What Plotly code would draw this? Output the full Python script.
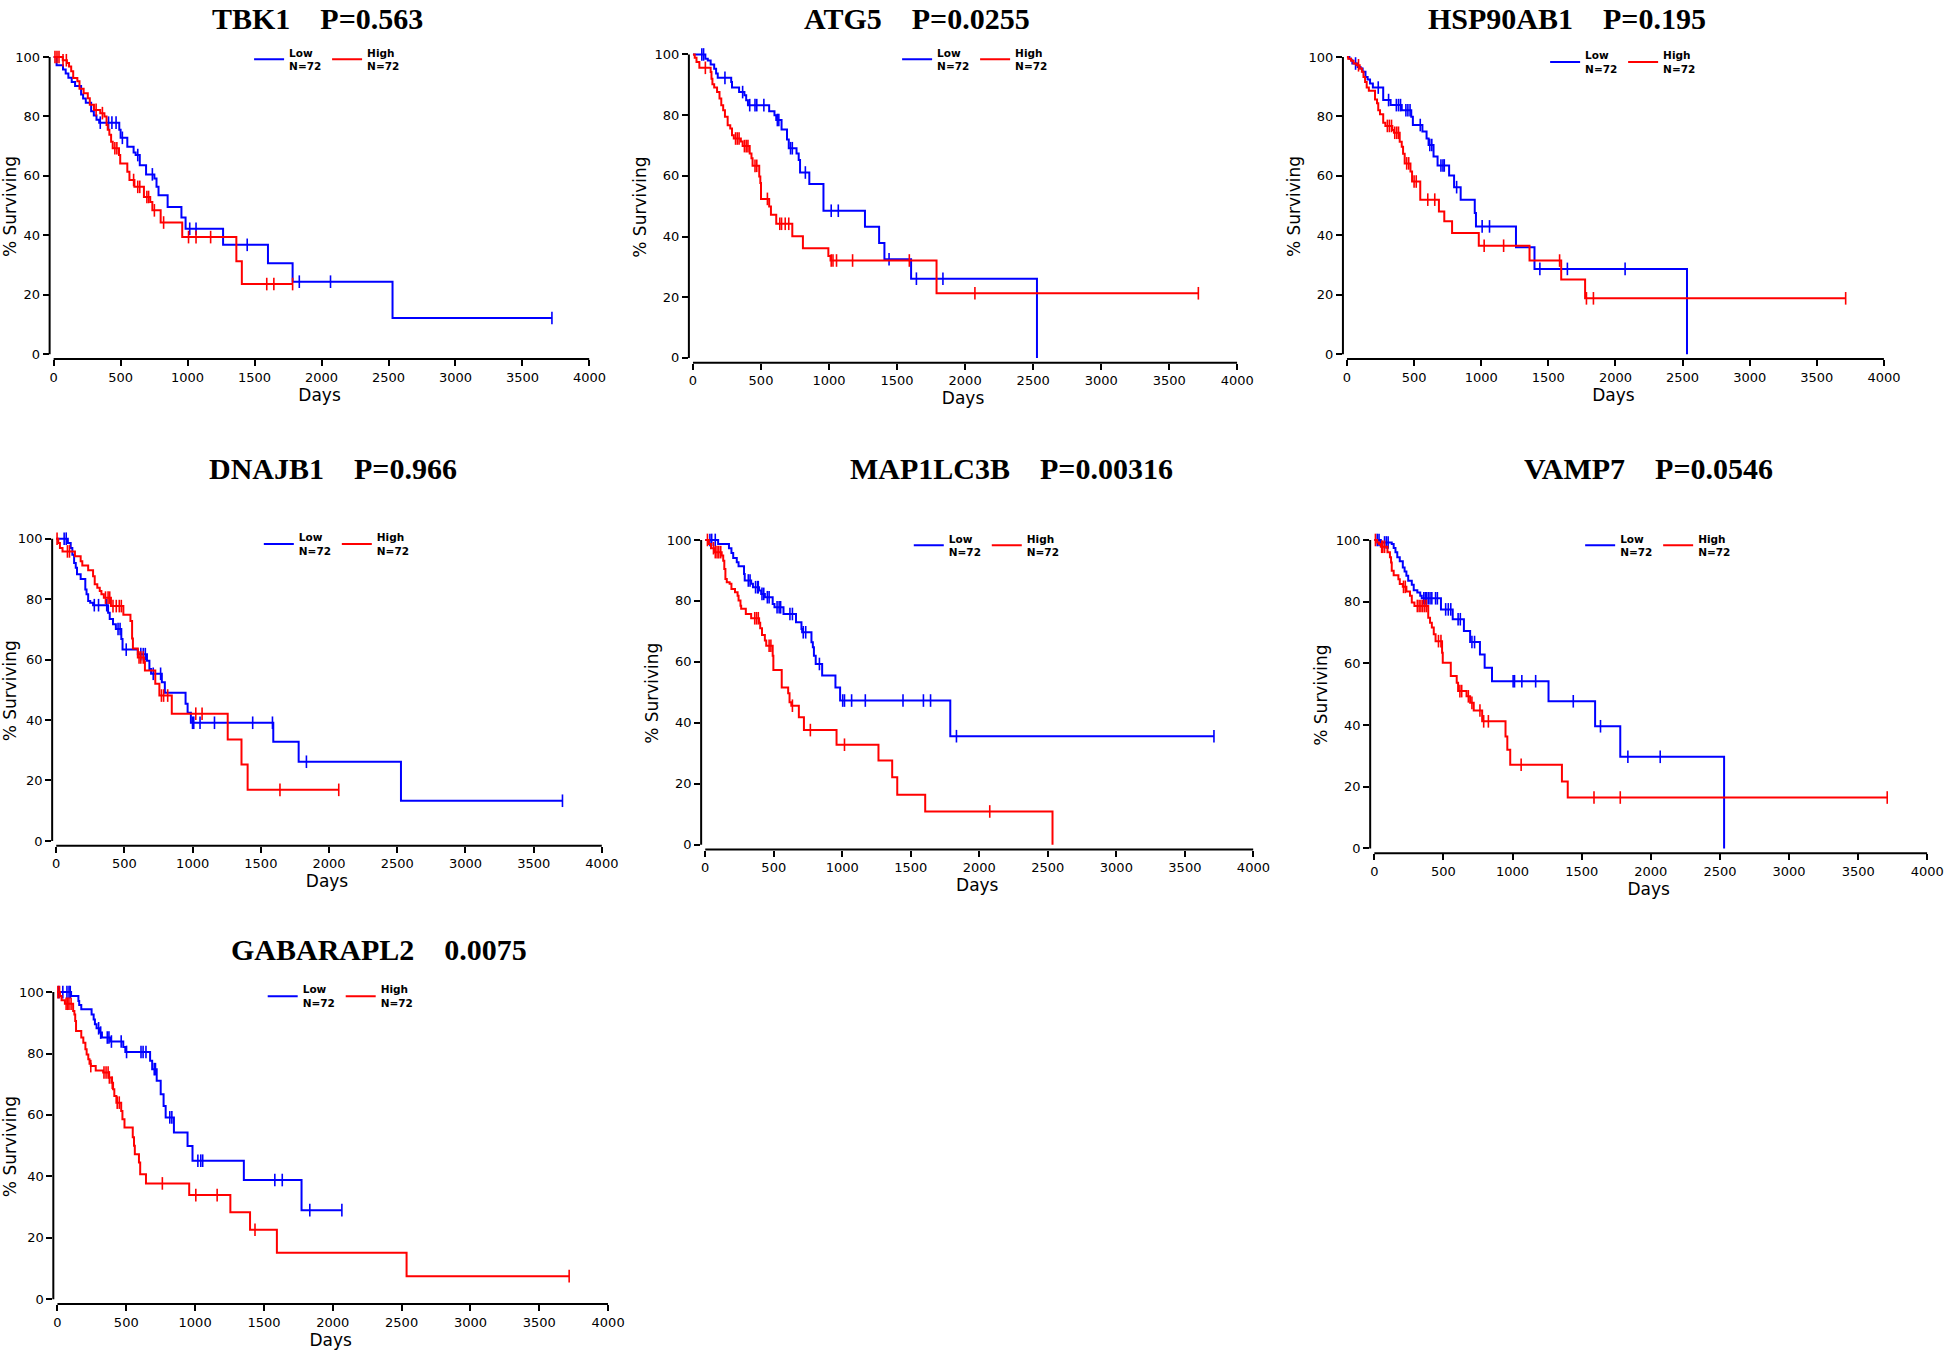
import plotly.graph_objects as go

# ---------------- data ----------------
GENES = ["TBK1", "ATG5", "HSP90AB1", "DNAJB1", "MAP1LC3B", "VAMP7", "GABARAPL2"]
P_LABELS = ["P=0.563", "P=0.0255", "P=0.195", "P=0.966", "P=0.00316", "P=0.0546", "0.0075"]
GROUPS = ["Low", "High"]
GROUP_N = [72, 72]
X_TICKS = [0, 500, 1000, 1500, 2000, 2500, 3000, 3500, 4000]
Y_TICKS = [0, 20, 40, 60, 80, 100]

# TBK1
TBK1_LOW_T = [0, 22, 70, 90, 110, 135, 160, 205, 220, 240, 280, 300, 320, 340, 490, 500, 550, 597, 612, 643,
              690, 752, 768, 783, 851, 954, 985, 1265, 1600, 1784, 2530]
TBK1_LOW_S = [100, 97.2, 95.8, 94.4, 93.0, 91.6, 90.2, 87.4, 86.0, 84.6, 81.7, 80.3, 78.9, 77.9, 75.5, 72.8, 69.8,
              67.9, 67.0, 63.6, 60.5, 59.1, 56.3, 53.5, 49.5, 46.0, 42.2, 36.8, 30.6, 24.4, 12.2]
TBK1_LOW_C = [348, 410, 435, 466, 513, 628, 737, 1016, 1063, 1445, 1834, 2067, 3720]
TBK1_HIGH_T = [0, 68, 99, 115, 131, 146, 177, 193, 224, 255, 270, 301, 348, 379, 395, 404, 416, 429, 441, 488,
               497, 550, 566, 603, 674, 721, 737, 799, 960, 1364, 1405]
TBK1_HIGH_S = [100, 98.9, 98.0, 96.8, 95.2, 92.9, 91.8, 89.3, 87.8, 86.1, 83.9, 82.2, 81.1, 80.0, 77.1, 75.5, 73.8,
               71.5, 69.3, 67.0, 64.2, 61.4, 58.6, 56.3, 52.9, 51.2, 48.4, 44.3, 39.4, 31.3, 23.6]
TBK1_HIGH_C = [10, 25, 40, 70, 95, 317, 364, 457, 472, 597, 628, 643, 696, 709, 752, 821, 1007, 1063, 1172, 1591,
               1644, 1784]

# ATG5
ATG5_LOW_T = [0, 91, 109, 130, 156, 170, 182, 281, 287, 339, 378, 391, 404, 560, 599, 612, 651, 691, 704, 761,
              777, 787, 855, 959, 1264, 1368, 1407, 1603, 2528]
ATG5_LOW_S = [100, 98.6, 98.0, 96.7, 95.3, 93.7, 92.3, 90.9, 89.1, 87.6, 86.6, 84.9, 83.3, 81.3, 80.0, 78.4, 75.3,
              72.0, 69.1, 67.4, 65.2, 61.1, 57.3, 48.5, 43.2, 37.9, 32.5, 26.1, 0]
ATG5_LOW_C = [65, 78, 235, 365, 417, 456, 469, 521, 620, 631, 717, 730, 826, 1016, 1068, 1441, 1642, 1837]
ATG5_HIGH_T = [0, 13, 26, 47, 130, 136, 143, 156, 177, 195, 208, 222, 235, 255, 274, 287, 300, 352, 365, 417,
               430, 438, 487, 495, 500, 560, 573, 612, 730, 808, 995, 1011, 1790]
ATG5_HIGH_S = [100, 98.9, 97.5, 95.6, 94.2, 92.0, 90.2, 89.1, 87.6, 85.5, 83.3, 81.6, 79.5, 76.7, 75.6, 73.4, 72.3,
               71.3, 69.8, 67.4, 65.8, 63.3, 59.8, 57.6, 52.4, 49.9, 47.2, 44.2, 40.1, 36.1, 33.6, 32.1, 21.3]
ATG5_HIGH_C = [91, 313, 326, 339, 378, 391, 404, 456, 469, 547, 638, 651, 678, 704, 1016, 1029, 1055, 1173, 1590,
               2072, 3714]

# HSP90AB1
HSP_LOW_T = [0, 18, 31, 40, 80, 101, 117, 138, 154, 172, 193, 270, 325, 408, 479, 491, 562, 593, 608, 645,
             675, 761, 798, 847, 952, 961, 1259, 1397, 2533]
HSP_LOW_S = [100, 99.4, 98.9, 97.8, 96.6, 96.1, 95.0, 93.3, 92.4, 91.1, 89.7, 85.5, 83.8, 82.1, 79.9, 77.1, 74.9,
             72.6, 70.4, 66.5, 63.5, 60.1, 56.2, 52.0, 47.5, 43.0, 36.0, 28.7, 0]
HSP_LOW_C = [64, 233, 310, 368, 384, 399, 439, 454, 470, 546, 617, 632, 700, 715, 725, 817, 1007, 1062, 1437,
             1642, 2072]
HSP_HIGH_T = [0, 9, 31, 49, 71, 95, 111, 123, 135, 147, 163, 209, 224, 233, 246, 270, 286, 338, 350, 393,
              408, 418, 430, 473, 485, 546, 685, 725, 783, 982, 1360, 1596, 1774]
HSP_HIGH_S = [100, 99.4, 98.7, 97.8, 97.2, 96.1, 95.0, 93.3, 91.6, 89.7, 88.6, 85.7, 84.4, 82.1, 80.7, 77.9, 76.8,
              75.4, 74.5, 71.5, 69.8, 67.4, 64.2, 61.5, 58.1, 52.0, 48.0, 44.7, 40.8, 36.5, 31.5, 25.1, 18.8]
HSP_HIGH_C = [86, 301, 316, 332, 356, 371, 384, 445, 460, 500, 516, 602, 654, 1022, 1167, 1584, 1784, 1836, 3715]

# DNAJB1
DNAJB1_LOW_T = [0, 85, 106, 118, 131, 143, 152, 179, 213, 222, 234, 249, 270, 380, 392, 416, 437, 477, 486, 598,
                665, 683, 695, 774, 796, 948, 963, 987, 1591, 1777, 2527]
DNAJB1_LOW_S = [100, 98.6, 96.9, 94.7, 92.0, 90.4, 88.2, 86.7, 83.2, 81.6, 79.4, 78.8, 78.0, 75.5, 73.4, 71.7,
                70.1, 66.8, 63.3, 61.8, 59.6, 56.9, 55.3, 52.5, 49.0, 45.4, 42.4, 39.1, 32.8, 26.2, 13.3]
DNAJB1_LOW_C = [58, 73, 279, 310, 370, 453, 468, 513, 620, 638, 653, 711, 765, 999, 1008, 1054, 1160, 1440, 1585,
                1834, 3711]
DNAJB1_HIGH_T = [0, 15, 27, 46, 137, 179, 191, 234, 270, 282, 301, 319, 331, 349, 401, 492, 544, 556, 562, 598,
                 644, 650, 726, 756, 847, 1257, 1358, 1403]
DNAJB1_HIGH_S = [100, 98.6, 96.9, 95.8, 94.2, 92.5, 91.1, 89.6, 87.6, 84.9, 83.8, 82.7, 81.6, 80.5, 77.7, 74.8,
                 72.8, 67.0, 63.7, 60.7, 59.3, 56.4, 52.0, 48.1, 42.1, 33.6, 25.3, 16.9]
DNAJB1_HIGH_C = [6, 82, 97, 361, 380, 392, 416, 440, 462, 477, 607, 620, 638, 771, 787, 817, 1023, 1069, 1640, 2071]

# MAP1LC3B
MAP_LOW_T = [0, 94, 173, 191, 204, 230, 243, 283, 288, 335, 348, 393, 408, 435, 492, 505, 571, 662, 702, 707,
             775, 785, 793, 806, 853, 950, 984, 1788]
MAP_LOW_S = [100, 98.7, 97.3, 95.7, 94.1, 92.7, 91.4, 88.8, 86.7, 85.6, 84.5, 83.4, 82.3, 81.2, 79.0, 77.9, 75.7,
             73.0, 70.8, 69.7, 66.4, 64.8, 62.0, 59.3, 55.5, 51.6, 47.3, 35.6]
MAP_LOW_C = [34, 47, 73, 314, 327, 367, 382, 387, 414, 427, 453, 466, 524, 539, 550, 618, 636, 715, 733, 833,
             1003, 1016, 1068, 1168, 1443, 1592, 1644, 1833, 3712]
MAP_HIGH_T = [0, 26, 42, 68, 120, 131, 139, 147, 157, 178, 191, 217, 236, 243, 257, 262, 296, 335, 393, 401,
              414, 435, 445, 492, 497, 558, 605, 615, 628, 683, 720, 958, 1264, 1364, 1401, 1605, 2534]
MAP_HIGH_S = [100, 98.7, 97.3, 96.0, 94.9, 93.2, 90.5, 87.2, 86.1, 85.6, 83.9, 82.8, 81.7, 80.1, 78.4, 77.4, 75.7,
              74.3, 72.8, 71.0, 68.8, 67.0, 65.3, 62.0, 57.3, 51.6, 49.7, 46.7, 45.6, 41.8, 37.6, 32.8, 27.6, 22.1,
              16.4, 10.9, 0]
MAP_HIGH_C = [16, 60, 73, 86, 99, 113, 361, 374, 387, 466, 479, 636, 767, 1016, 2076]

# VAMP7
VAMP7_LOW_T = [0, 47, 126, 140, 153, 166, 184, 206, 219, 232, 245, 271, 285, 311, 332, 343, 482, 567, 648, 693,
               764, 798, 851, 1260, 1597, 1779, 2530]
VAMP7_LOW_S = [100, 99.2, 98.7, 97.4, 96.0, 94.4, 93.1, 91.1, 89.8, 88.4, 86.8, 85.5, 83.7, 83.0, 81.9, 81.1, 77.5,
               74.3, 70.5, 66.9, 62.9, 58.6, 54.2, 47.7, 39.6, 29.7, 0]
VAMP7_LOW_C = [21, 34, 74, 87, 100, 358, 369, 377, 390, 403, 416, 443, 456, 516, 535, 553, 606, 622, 706, 725,
               1004, 1014, 1067, 1167, 1439, 1636, 1834, 2068]
VAMP7_HIGH_T = [0, 21, 34, 47, 95, 113, 121, 126, 140, 174, 184, 206, 232, 258, 271, 290, 390, 403, 416, 430,
                443, 490, 495, 553, 596, 606, 667, 693, 719, 780, 949, 962, 983, 1357, 1399]
VAMP7_HIGH_S = [100, 99.2, 98.7, 97.8, 96.0, 94.4, 92.7, 90.0, 88.6, 87.3, 85.7, 84.8, 83.3, 81.9, 79.7, 78.6,
                74.8, 73.2, 71.6, 69.4, 67.2, 63.4, 60.2, 55.9, 53.7, 51.0, 49.3, 47.2, 44.7, 41.2, 36.3, 32.0,
                27.1, 21.7, 16.5]
VAMP7_HIGH_C = [8, 53, 61, 74, 211, 224, 311, 324, 337, 350, 364, 377, 464, 482, 619, 632, 680, 706, 764, 791, 825,
                1062, 1589, 1779, 3710]

# GABARAPL2
GAB_LOW_T = [0, 99, 152, 158, 173, 248, 263, 272, 284, 308, 323, 383, 478, 493, 673, 688, 721, 750, 771,
             786, 846, 945, 981, 1354, 1773]
GAB_LOW_S = [100, 98.7, 97.1, 95.8, 94.4, 92.7, 91.1, 89.5, 88.2, 86.8, 85.2, 83.9, 82.1, 80.5, 77.6, 74.9, 71.1,
             66.7, 62.9, 59.2, 54.3, 49.9, 45.1, 38.8, 29.0]
GAB_LOW_C = [9, 39, 69, 84, 93, 299, 314, 362, 374, 392, 463, 502, 607, 622, 643, 703, 712, 816, 831, 1020, 1041,
             1055, 1579, 1633, 1833, 2066]
GAB_HIGH_T = [0, 18, 30, 54, 114, 123, 129, 135, 173, 188, 203, 212, 224, 233, 242, 278, 332, 374, 392, 404,
              413, 428, 463, 472, 487, 547, 556, 562, 592, 601, 643, 957, 1256, 1399, 1594, 2536]
GAB_HIGH_S = [100, 98.7, 97.3, 96.2, 93.8, 92.7, 90.6, 87.3, 85.2, 83.5, 81.4, 79.7, 78.1, 76.7, 75.9, 74.5, 73.8,
              72.2, 70.5, 68.4, 66.2, 64.0, 61.3, 58.6, 55.9, 52.7, 50.0, 47.2, 44.5, 40.7, 37.7, 33.9, 28.3, 22.6,
              15.1, 7.5]
GAB_HIGH_C = [3, 15, 63, 75, 84, 99, 242, 338, 353, 368, 377, 398, 434, 449, 762, 1005, 1160, 1435, 3717]

CURVES = [
    ((TBK1_LOW_T, TBK1_LOW_S, TBK1_LOW_C), (TBK1_HIGH_T, TBK1_HIGH_S, TBK1_HIGH_C)),
    ((ATG5_LOW_T, ATG5_LOW_S, ATG5_LOW_C), (ATG5_HIGH_T, ATG5_HIGH_S, ATG5_HIGH_C)),
    ((HSP_LOW_T, HSP_LOW_S, HSP_LOW_C), (HSP_HIGH_T, HSP_HIGH_S, HSP_HIGH_C)),
    ((DNAJB1_LOW_T, DNAJB1_LOW_S, DNAJB1_LOW_C), (DNAJB1_HIGH_T, DNAJB1_HIGH_S, DNAJB1_HIGH_C)),
    ((MAP_LOW_T, MAP_LOW_S, MAP_LOW_C), (MAP_HIGH_T, MAP_HIGH_S, MAP_HIGH_C)),
    ((VAMP7_LOW_T, VAMP7_LOW_S, VAMP7_LOW_C), (VAMP7_HIGH_T, VAMP7_HIGH_S, VAMP7_HIGH_C)),
    ((GAB_LOW_T, GAB_LOW_S, GAB_LOW_C), (GAB_HIGH_T, GAB_HIGH_S, GAB_HIGH_C)),
]

# ---------------- style / layout ----------------
COLORS = ["#0000FF", "#FF0000"]
W, H = 1946, 1350
X_DOMAINS = [(0.0255, 0.3029), (0.3540, 0.6358), (0.6901, 0.9681),
             (0.0268, 0.3093), (0.3603, 0.6441), (0.7041, 0.9904),
             (0.0274, 0.3125)]
Y_DOMAINS = [(0.7341, 0.9600), (0.7313, 0.9619), (0.7341, 0.9600),
             (0.3735, 0.6032), (0.3707, 0.6023), (0.3679, 0.6023),
             (0.0340, 0.2674)]
# (x, y, yanchor) of each panel title
TITLE_POS = [(0.163, 1.0, "top"), (0.471, 1.0, "top"), (0.805, 1.0, "top"),
             (0.171, 0.6533, "middle"), (0.520, 0.6533, "middle"), (0.847, 0.6533, "middle"),
             (0.195, 0.2963, "middle")]
LEGEND_POS = [(0.128, 0.971), (0.461, 0.971), (0.794, 0.969),
              (0.133, 0.612), (0.467, 0.611), (0.812, 0.611),
              (0.135, 0.277)]
X_RANGE = [-30, 4000]
Y_RANGE = [-1.6, 101]
SANS = "DejaVu Sans"
SERIF = "Liberation Serif"
SP = "\u00a0" * 4


def surv_at(ts, ss, t):
    v = ss[0]
    for tt, s in zip(ts, ss):
        if tt <= t:
            v = s
        else:
            break
    return v


fig = go.Figure()
layout = dict(width=W, height=H, autosize=False, margin=dict(l=0, r=0, t=0, b=0),
              paper_bgcolor="white", plot_bgcolor="white", showlegend=True)
annotations = []
shapes = []

for i, (gene, plab, curves) in enumerate(zip(GENES, P_LABELS, CURVES)):
    n = i + 1
    xa = "x" if n == 1 else f"x{n}"
    ya = "y" if n == 1 else f"y{n}"
    leg = "legend" if n == 1 else f"legend{n}"
    for g, (ts, ss, cs) in enumerate(curves):
        xs = list(ts)
        ys = list(ss)
        if ss[-1] > 0 and max(cs) > ts[-1]:
            xs.append(max(cs))
            ys.append(ss[-1])
        fig.add_trace(go.Scatter(
            x=xs, y=ys, mode="lines", line=dict(color=COLORS[g], width=2, shape="hv"),
            name=f"{GROUPS[g]}<br>N={GROUP_N[g]}", xaxis=xa, yaxis=ya, legend=leg,
            hoverinfo="skip"))
        fig.add_trace(go.Scatter(
            x=cs, y=[surv_at(ts, ss, c) for c in cs], mode="markers",
            marker=dict(symbol="line-ns", size=9, line=dict(color=COLORS[g], width=1.6)),
            xaxis=xa, yaxis=ya, showlegend=False, hoverinfo="skip", cliponaxis=False))

    axis_common = dict(showgrid=False, zeroline=False, showline=False, ticks="outside",
                       ticklen=6, tickwidth=2, tickcolor="black",
                       tickfont=dict(family=SANS, size=13, color="black"), automargin=False)
    layout[f"xaxis{'' if n == 1 else n}"] = dict(
        axis_common, domain=list(X_DOMAINS[i]), range=X_RANGE, tickvals=X_TICKS,
        anchor=ya,
        title=dict(text="Days", font=dict(family=SANS, size=17, color="black"), standoff=4))
    layout[f"yaxis{'' if n == 1 else n}"] = dict(
        axis_common, domain=list(Y_DOMAINS[i]), range=Y_RANGE, tickvals=Y_TICKS,
        anchor=xa,
        title=dict(text="% Surviving", font=dict(family=SANS, size=17, color="black"), standoff=3))
    # offset axis lines (Prism style): x-axis from 0 to 4000, y-axis from 0 to 100
    shapes.append(dict(type="line", xref=xa, yref=f"{ya} domain", x0=X_TICKS[0], x1=X_TICKS[-1],
                       y0=0, y1=0, line=dict(color="black", width=2)))
    shapes.append(dict(type="line", xref=f"{xa} domain", yref=ya, x0=0, x1=0,
                       y0=Y_TICKS[0], y1=Y_TICKS[-1], line=dict(color="black", width=2)))
    tx, ty, tanchor = TITLE_POS[i]
    annotations.append(dict(text=f"<b>{gene}{SP}{plab}</b>", xref="paper", yref="paper", x=tx, y=ty,
                            xanchor="center", yanchor=tanchor, showarrow=False,
                            font=dict(family=SERIF, size=30, color="black")))
    lx, ly = LEGEND_POS[i]
    layout[leg] = dict(x=lx, y=ly, xanchor="left", yanchor="top", orientation="h",
                       bgcolor="rgba(0,0,0,0)", borderwidth=0, itemwidth=30,
                       entrywidth=33, entrywidthmode="pixels", tracegroupgap=0,
                       font=dict(family=SANS, size=10.5, color="black", weight="bold"))

layout["annotations"] = annotations
layout["shapes"] = shapes
fig.update_layout(**layout)
fig.write_html("out.html", config={"displayModeBar": False},
               post_script="document.body.style.margin='0px';document.body.style.overflow='hidden';")
